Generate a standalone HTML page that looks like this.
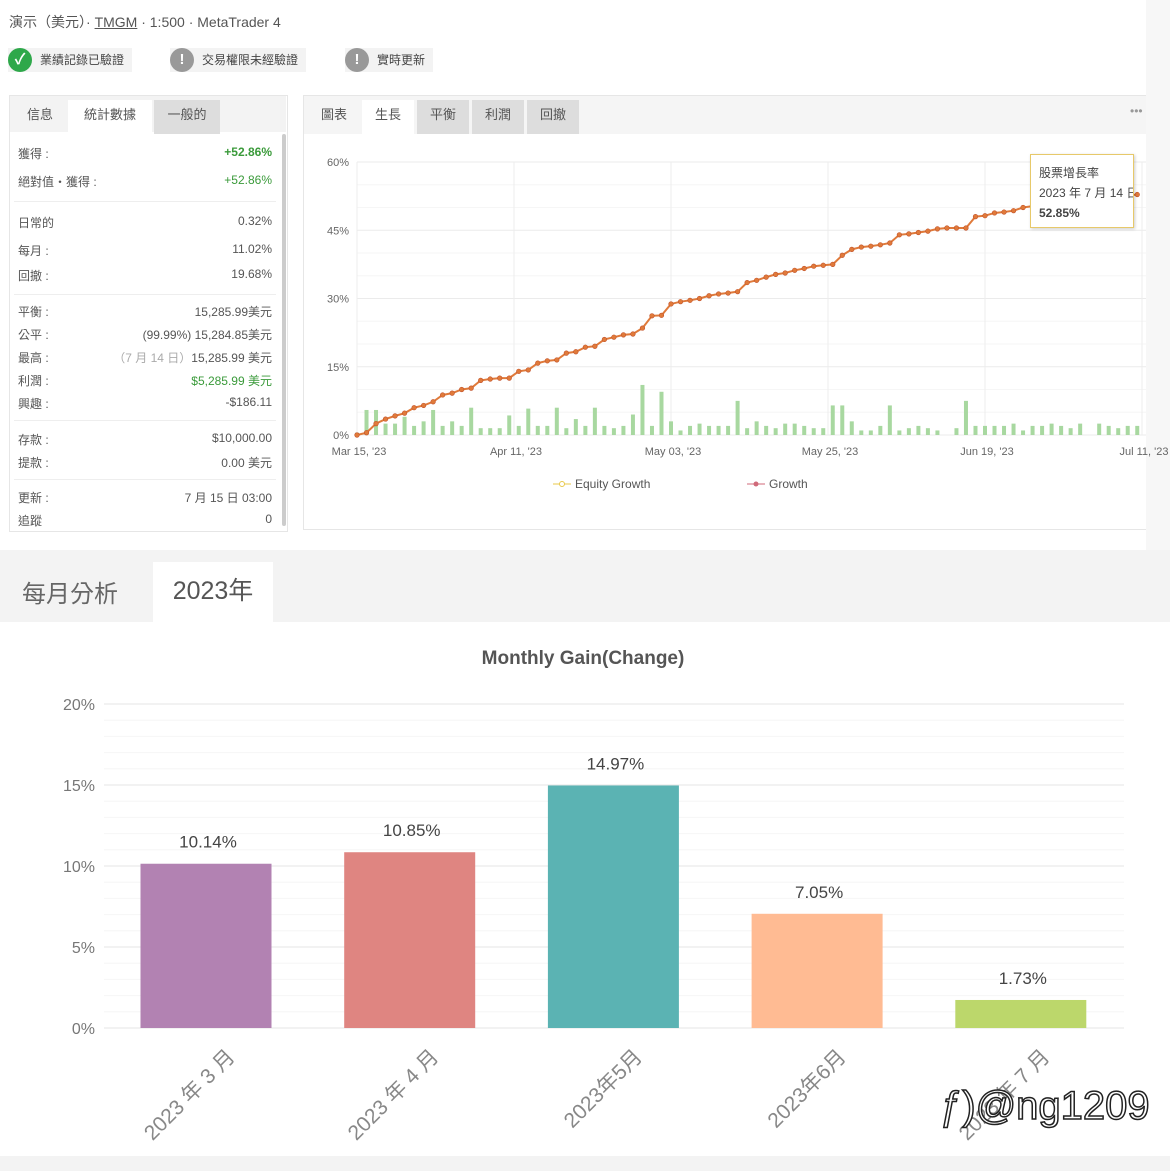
<!DOCTYPE html>
<html><head><meta charset="utf-8">
<style>
body{margin:0;width:1170px;height:1171px;background:#fff;position:relative;overflow:hidden;font-family:"Liberation Sans","Noto Sans CJK TC",sans-serif;color:#555}
.a{position:absolute}
.badge{position:absolute;top:48px;height:24px;background:#f3f3f3;font-size:12px;line-height:24px;color:#444;padding:0 8px 0 32px}
.badge .ic{position:absolute;left:0;top:0;width:24px;height:24px;border-radius:50%;color:#fff;text-align:center;font-weight:bold;font-size:15px}
.row{position:absolute;left:18px;width:254px;font-size:12px;color:#555}
.row span{position:absolute;right:0}
.tab{position:absolute;top:102px;height:34px;line-height:30px;font-size:13px;color:#555;text-align:center}
.sep{position:absolute;left:14px;width:262px;height:1px;background:#eee}
</style></head><body>
<div class="a" style="left:9px;top:12px;font-size:14px;color:#555">演示（美元）· <u>TMGM</u> · 1:500 · MetaTrader 4</div>
<div class="badge" style="left:8px"><div class="ic" style="background:#2ea84a">✓</div>業績記錄已驗證</div>
<div class="badge" style="left:170px"><div class="ic" style="background:#999">!</div>交易權限未經驗證</div>
<div class="badge" style="left:345px"><div class="ic" style="background:#999">!</div>實時更新</div>

<div class="a" style="left:9px;top:95px;width:277px;height:435px;border:1px solid #e6e6e6;background:#fff"></div>
<div class="a" style="left:10px;top:96px;width:276px;height:36px;background:#f3f3f3"></div>
<div class="tab" style="left:14px;width:52px;top:100px">信息</div>
<div class="tab" style="left:68px;width:84px;top:100px;background:#fff">統計數據</div>
<div class="tab" style="left:154px;width:66px;top:100px;background:#ddd">一般的</div>
<div class="a" style="left:282px;top:134px;width:4px;height:392px;background:#ccc;border-radius:2px"></div>
<div class="row" style="top:145px">獲得 :<span style="color:#3a9a3a;font-weight:bold">+52.86%</span></div>
<div class="row" style="top:173px">絕對值・獲得 :<span style="color:#3a9a3a">+52.86%</span></div>
<div class="sep" style="top:201px"></div>
<div class="row" style="top:214px">日常的<span>0.32%</span></div>
<div class="row" style="top:242px">每月 :<span>11.02%</span></div>
<div class="row" style="top:267px">回撤 :<span>19.68%</span></div>
<div class="sep" style="top:294px"></div>
<div class="row" style="top:303px">平衡 :<span>15,285.99美元</span></div>
<div class="row" style="top:326px">公平 :<span>(99.99%) 15,284.85美元</span></div>
<div class="row" style="top:349px">最高 :<span><span style="position:static;color:#aaa">（7 月 14 日）</span>15,285.99 美元</span></div>
<div class="row" style="top:372px">利潤 :<span style="color:#3a9a3a">$5,285.99 美元</span></div>
<div class="row" style="top:395px">興趣 :<span>-$186.11</span></div>
<div class="sep" style="top:420px"></div>
<div class="row" style="top:431px">存款 :<span>$10,000.00</span></div>
<div class="row" style="top:454px">提款 :<span>0.00 美元</span></div>
<div class="sep" style="top:479px"></div>
<div class="row" style="top:489px">更新 :<span>7 月 15 日 03:00</span></div>
<div class="row" style="top:512px">追蹤<span>0</span></div>

<div class="a" style="left:303px;top:95px;width:850px;height:433px;border:1px solid #e6e6e6;background:#fff"></div>
<div class="a" style="left:304px;top:96px;width:850px;height:38px;background:#f5f5f5"></div>
<div class="tab" style="left:308px;width:52px;top:100px">圖表</div>
<div class="tab" style="left:362px;width:52px;top:100px;background:#fff">生長</div>
<div class="tab" style="left:417px;width:52px;top:100px;background:#ddd">平衡</div>
<div class="tab" style="left:472px;width:52px;top:100px;background:#ddd">利潤</div>
<div class="tab" style="left:527px;width:52px;top:100px;background:#ddd">回撤</div>
<div class="a" style="left:1130px;top:104px;font-size:12px;color:#999">•••</div>
<div class="a" style="left:1146px;top:0;width:24px;height:550px;background:#f7f7f7"></div>

<svg class="a" style="left:0;top:0" width="1170" height="1171" id="svg">
<g id="growth"></g><g id="monthly"></g>
</svg>

<div class="a" style="left:1030px;top:154px;width:104px;height:74px;background:#fff;border:1px solid #e7c96a;box-shadow:1px 1px 3px rgba(0,0,0,.2);font-size:12px;color:#444;padding:8px 0 0 8px;box-sizing:border-box;line-height:20px;white-space:nowrap;overflow:hidden">股票增長率<br>2023 年 7 月 14 日<br><b>52.85%</b></div>

<div class="a" style="left:0;top:550px;width:1170px;height:72px;background:#f3f3f3"></div>
<div class="a" style="left:22px;top:574px;font-size:24px;color:#666">每月分析</div>
<div class="a" style="left:153px;top:562px;width:120px;height:60px;background:#fff;font-size:25px;color:#555;text-align:center;line-height:58px">2023年</div>
<div class="a" style="left:0;width:1166px;top:648px;text-align:center;font-size:19px;font-weight:bold;color:#555">Monthly Gain(Change)</div>
<div class="a" style="left:0;top:1156px;width:1170px;height:15px;background:#f3f3f3"></div>
<div class="a" style="left:940px;top:1084px;font-size:40px;color:#fff;-webkit-text-stroke:1.5px #222;font-family:'Liberation Sans Narrow','Liberation Sans',sans-serif">ƒ)@ng1209</div>

<script>
const growth=[0,0.5,2.5,3.5,4.2,4.8,6,6.5,7.3,8.8,9.2,10,10.3,12,12.3,12.5,12.5,14,14.3,15.8,16.3,16.5,18,18.3,19.3,19.5,21,21.5,22,22.2,23.5,26.2,26.3,28.8,29.3,29.6,30,30.6,31,31.2,31.5,33.5,34,34.7,35.3,35.6,36.2,36.6,37.1,37.3,37.5,39.5,40.8,41.3,41.5,41.8,42.2,44,44.2,44.5,44.8,45.3,45.5,45.5,45.5,48,48.2,48.8,49,49.3,50,50.3,50.6,50.8,51,51.2,51.5,51.8,52,52.2,52.4,52.6,52.85];
const dailyBars=[0.5,5.5,5.5,2.5,2.5,4,2,3,5.5,2,3,2,6,1.5,1.5,1.5,4.3,2,5.8,2,2,6,1.5,3.5,2,6,2,1.5,2,4.5,11,2,9.5,3,1,2,2.5,2,2,2,7.5,1.5,3,2,1.5,2.5,2.5,2,1.5,1.5,6.5,6.5,3,1,1,2,6.5,1,1.5,2,1.5,1,0,1.5,7.5,2,2,2,2,2.5,1,2,2,2.5,2,1.5,2.5,0,2.5,2,1.5,2,2];
const growthTicks=[0,15,30,45,60];
const dateLabels=["Mar 15, '23","Apr 11, '23","May 03, '23","May 25, '23","Jun 19, '23","Jul 11, '23"];
const dateIdx=[0,16.5,33,49.5,66,82.5];
const months=["2023 年 3 月","2023 年 4 月","2023年5月","2023年6月","2023 年 7 月"];
const monthGain=[10.14,10.85,14.97,7.05,1.73];
const monthColors=["#b282b2","#df8581","#5bb3b3","#ffbb93","#bcd76b"];
const monthTicks=[0,5,10,15,20];
const NS="http://www.w3.org/2000/svg";
function mk(p,t,a,txt){const e=document.createElementNS(NS,t);for(const k in a)e.setAttribute(k,a[k]);if(txt!=null)e.textContent=txt;p.appendChild(e);return e;}
// growth chart
const G=document.getElementById('growth');
const gx=i=>357+i*(1142-357)/82.5, gy=v=>435-v*(435-162)/60;
for(let v=0;v<=60;v+=5){const l=mk(G,'line',{x1:357,x2:1146,y1:gy(v),y2:gy(v),stroke:v%15?'#f6f6f6':'#ebebeb'});}
for(const i of dateIdx){mk(G,'line',{x1:gx(i),x2:gx(i),y1:162,y2:435,stroke:'#ededed'});}
growthTicks.forEach(v=>{const t=mk(G,'text',{x:349,y:gy(v)+4,'text-anchor':'end','font-size':11,fill:'#666'},v+'%');});
dateLabels.forEach((s,k)=>{const t=mk(G,'text',{x:gx(dateIdx[k])+2,y:455,'text-anchor':'middle','font-size':11,fill:'#666'},s);});
dailyBars.forEach((v,i)=>{if(!v)return;const r=mk(G,'rect',{x:gx(i)-2,y:gy(v),width:4,height:435-gy(v),fill:'#a8d8a0'});});
const pts=growth.map((v,i)=>gx(i)+','+gy(v)).join(' ');
const pl=mk(G,'polyline',{points:pts,fill:'none',stroke:'#e07a3a','stroke-width':2});

growth.forEach((v,i)=>{const c=mk(G,'circle',{cx:gx(i),cy:gy(v),r:2.3,fill:'#e07a3a',stroke:'#c0502a','stroke-width':0.6});});
mk(G,'line',{x1:553,x2:571,y1:484,y2:484,stroke:'#e8c84a'});mk(G,'circle',{cx:562,cy:484,r:2.5,fill:'#fff',stroke:'#e8c84a'});
const le=mk(G,'text',{x:575,y:488,'font-size':12,fill:'#555'},'Equity Growth');
mk(G,'line',{x1:747,x2:765,y1:484,y2:484,stroke:'#d06a7a'});mk(G,'circle',{cx:756,cy:484,r:2.5,fill:'#d06a7a'});
const lg=mk(G,'text',{x:769,y:488,'font-size':12,fill:'#555'},'Growth');
// monthly chart
const M=document.getElementById('monthly');
const my=v=>1028-v*(1028-704)/20, mx=i=>206+i*203.7;
for(let v=0;v<=20;v++){mk(M,'line',{x1:104,x2:1124,y1:my(v),y2:my(v),stroke:v%5?'#f6f6f6':'#e6e6e6'});}
monthTicks.forEach(v=>{const t=mk(M,'text',{x:95,y:my(v)+6,'text-anchor':'end','font-size':16,fill:'#777'},v+'%');});
monthGain.forEach((v,i)=>{
 const r=mk(M,'rect',{x:mx(i)-65.5,y:my(v),width:131,height:1028-my(v),fill:monthColors[i]});
 
 const t=mk(M,'text',{x:mx(i)+2,y:my(v)-16,'text-anchor':'middle','font-size':17,fill:'#444'},v.toFixed(2)+'%');
 
 const c=mk(M,'text',{x:mx(i)+30,y:1058,'text-anchor':'end','font-size':21,fill:'#888',transform:`rotate(-45 ${mx(i)+30} 1058)`},months[i]);
 
});
</script>
</body></html>
